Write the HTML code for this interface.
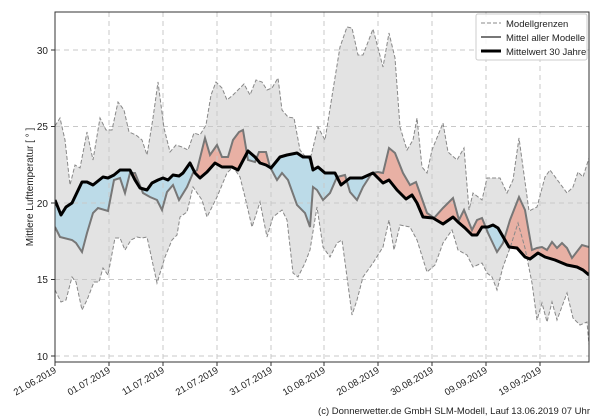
<!DOCTYPE html>
<html><head><meta charset="utf-8"><style>
body{margin:0;background:#fff;}
svg{display:block;font-family:"Liberation Sans","DejaVu Sans",sans-serif;}
</style></head><body>
<svg width="600" height="420" viewBox="0 0 600 420">
<defs>
<clipPath id="plot"><rect x="55" y="12" width="534" height="350"/></clipPath>
<clipPath id="below30"><polygon id="b30" points=""/></clipPath>
<clipPath id="above30"><polygon id="a30" points=""/></clipPath>
</defs>
<g clip-path="url(#plot)">
<polygon id="band" fill="#e3e3e3" points=""/>
<g clip-path="url(#below30)"><polygon id="blueP" fill="#bcdbe8" points=""/></g>
<g clip-path="url(#above30)"><polygon id="redP" fill="#e8b0a4" points=""/></g>
</g>
<g stroke="#c8c8c8" stroke-dasharray="5,4" stroke-width="1" fill="none">
<line x1="55" x2="589" y1="356" y2="356"/><line x1="55" x2="589" y1="279.5" y2="279.5"/><line x1="55" x2="589" y1="203" y2="203"/><line x1="55" x2="589" y1="126.5" y2="126.5"/><line x1="55" x2="589" y1="50" y2="50"/>
<line y1="12" y2="362" x1="109" x2="109"/><line y1="12" y2="362" x1="163" x2="163"/><line y1="12" y2="362" x1="217" x2="217"/><line y1="12" y2="362" x1="271" x2="271"/><line y1="12" y2="362" x1="324" x2="324"/><line y1="12" y2="362" x1="378" x2="378"/><line y1="12" y2="362" x1="432" x2="432"/><line y1="12" y2="362" x1="486" x2="486"/><line y1="12" y2="362" x1="540" x2="540"/>
</g>
<g clip-path="url(#plot)" fill="none">
<polyline id="up" stroke="#888" stroke-width="1" stroke-dasharray="4,2" points=""/>
<polyline id="lo" stroke="#888" stroke-width="1" stroke-dasharray="4,2" points=""/>
<polyline id="mn" stroke="#777" stroke-width="2" points=""/>
<polyline id="yr" stroke="#000" stroke-width="3" stroke-linejoin="round" points=""/>
</g>
<rect x="55" y="12" width="534" height="350" fill="none" stroke="#333" stroke-width="1"/>
<g font-size="10" fill="#222" text-anchor="end">
<text x="48" y="360">10</text><text x="48" y="283">15</text><text x="48" y="207">20</text><text x="48" y="130">25</text><text x="48" y="54">30</text>
</g>
<g stroke="#333"><line x1="51" x2="55" y1="356" y2="356"/><line x1="51" x2="55" y1="279.5" y2="279.5"/><line x1="51" x2="55" y1="203" y2="203"/><line x1="51" x2="55" y1="126.5" y2="126.5"/><line x1="51" x2="55" y1="50" y2="50"/></g>
<text transform="translate(33,187) rotate(-90)" font-size="10" fill="#222" text-anchor="middle">Mittlere Lufttemperatur [ ° ]</text>
<g font-size="9.5" fill="#222" text-anchor="end" id="xl"></g>
<g transform="translate(476,14)">
<rect x="0" y="0" width="111" height="46" fill="#fff" fill-opacity="0.85" stroke="#ccc" rx="2"/>
<line x1="5" x2="25" y1="9" y2="9" stroke="#888" stroke-dasharray="4,2"/>
<line x1="5" x2="25" y1="23" y2="23" stroke="#777" stroke-width="2"/>
<line x1="5" x2="25" y1="37" y2="37" stroke="#000" stroke-width="3"/>
<g font-size="9.5" fill="#222"><text x="30" y="13">Modellgrenzen</text><text x="30" y="27">Mittel aller Modelle</text><text x="30" y="41">Mittelwert 30 Jahre</text></g>
</g>
<text x="590" y="414" font-size="9.5" fill="#222" text-anchor="end">(c) Donnerwetter.de GmbH SLM-Modell, Lauf 13.06.2019 07 Uhr</text>
</svg>
<script>
var up=[[55,126],[60,118],[65,140],[70,185],[75,165],[80,168],[87,132],[93,160],[100,118],[106,130],[112,130],[118,102],[124,110],[129,132],[136,135],[142,140],[147,155],[153,118],[158,82],[164,128],[170,152],[176,145],[182,147],[188,150],[194,133],[200,135],[206,125],[211,95],[216,82],[222,88],[227,100],[233,95],[238,90],[244,84],[250,95],[256,80],[262,82],[267,90],[272,88],[278,78],[282,110],[288,117],[294,118],[300,150],[304,155],[310,160],[318,127],[325,140],[333,90],[340,47],[347,27],[352,28],[358,55],[363,55],[373,29],[383,67],[389,33],[395,58],[400,127],[407,150],[413,140],[417,118],[422,167],[427,173],[432,150],[443,123],[448,152],[457,160],[464,148],[469,210],[473,193],[482,200],[487,178],[500,178],[507,193],[513,180],[519,138],[529,211],[537,207],[545,177],[550,170],[567,193],[573,187],[578,172],[583,177],[589,158]];
var lo=[[55,290],[61,302],[66,300],[72,277],[76,282],[82,310],[87,300],[94,282],[99,282],[103,268],[108,275],[115,238],[120,238],[125,250],[131,240],[137,237],[142,238],[147,237],[157,283],[165,257],[172,240],[177,235],[180,217],[187,212],[193,187],[202,200],[207,217],[217,197],[227,173],[233,167],[240,177],[245,197],[252,227],[260,202],[267,237],[273,217],[282,210],[287,220],[293,273],[298,277],[305,263],[310,250],[317,207],[323,247],[330,257],[337,243],[342,240],[347,277],[352,315],[357,300],[363,277],[373,263],[383,247],[389,220],[394,250],[400,225],[410,227],[417,240],[427,272],[435,265],[443,243],[452,230],[458,250],[467,255],[473,267],[482,263],[487,273],[492,277],[497,290],[503,267],[510,248],[518,223],[525,248],[532,283],[537,320],[542,303],[547,322],[552,302],[557,320],[567,293],[573,318],[580,325],[587,322],[589,345]];
var mn=[[55,227],[60,237],[72,240],[76,243],[82,252],[87,233],[93,213],[98,208],[108,211],[114,180],[120,178],[125,193],[130,173],[135,173],[143,193],[150,197],[157,200],[162,210],[167,192],[173,185],[179,200],[187,187],[193,173],[197,170],[205,138],[210,155],[217,145],[222,157],[228,157],[233,140],[239,132],[243,130],[248,160],[255,162],[259,152],[266,152],[270,167],[277,180],[282,173],[288,180],[297,205],[305,213],[310,227],[313,187],[317,190],[323,200],[330,193],[337,177],[345,175],[350,192],[357,200],[363,187],[372,173],[378,172],[383,173],[389,148],[395,153],[403,173],[410,185],[416,182],[427,213],[434,218],[443,208],[453,198],[459,220],[464,210],[472,230],[477,220],[482,218],[488,233],[497,252],[503,243],[510,220],[519,197],[525,210],[532,250],[537,248],[542,247],[547,250],[552,242],[557,248],[562,243],[567,248],[572,258],[582,245],[589,247]];
var yr=[[55,200],[61,215],[66,207],[72,203],[82,182],[87,182],[93,185],[103,177],[108,178],[114,175],[120,170],[130,170],[135,180],[140,188],[147,190],[152,183],[158,180],[163,178],[168,180],[173,175],[179,176],[183,173],[190,163],[195,173],[200,178],[207,172],[215,163],[222,167],[232,167],[238,170],[248,151],[255,157],[260,163],[266,165],[271,168],[280,157],[287,155],[297,153],[303,157],[310,157],[313,170],[318,167],[325,173],[335,173],[341,185],[350,178],[362,178],[373,173],[383,183],[389,180],[397,190],[406,199],[412,195],[417,203],[423,217],[433,218],[443,224],[453,217],[458,222],[465,228],[472,235],[477,235],[482,227],[488,227],[493,225],[498,228],[509,247],[517,248],[525,257],[530,259],[538,253],[545,257],[555,260],[567,265],[577,267],[583,270],[589,275]];
function s(a){return a.map(function(p){return p.join(',')}).join(' ');}
function r(a){return a.slice().reverse();}
document.getElementById('up').setAttribute('points',s(up));
document.getElementById('lo').setAttribute('points',s(lo));
document.getElementById('mn').setAttribute('points',s(mn));
document.getElementById('yr').setAttribute('points',s(yr));
document.getElementById('band').setAttribute('points',s(up.concat(r(lo))));
document.getElementById('b30').setAttribute('points',s(yr.concat([[600,420],[40,420]])));
document.getElementById('a30').setAttribute('points',s(yr.concat([[600,0],[40,0]])));
document.getElementById('blueP').setAttribute('points',s(mn.concat([[600,0],[40,0]])));
document.getElementById('redP').setAttribute('points',s(mn.concat([[600,420],[40,420]])));
var labs=['21.06.2019','01.07.2019','11.07.2019','21.07.2019','31.07.2019','10.08.2019','20.08.2019','30.08.2019','09.09.2019','19.09.2019'];
var xs=[55,109,163,217,271,324,378,432,486,540];
var g=document.getElementById('xl'),h='';
for(var i=0;i<labs.length;i++){h+='<line x1="'+xs[i]+'" x2="'+xs[i]+'" y1="362" y2="366" stroke="#333"/><text transform="translate('+(xs[i]+2)+',372) rotate(-30)">'+labs[i]+'</text>';}
g.innerHTML=h;
</script>
</body></html>
